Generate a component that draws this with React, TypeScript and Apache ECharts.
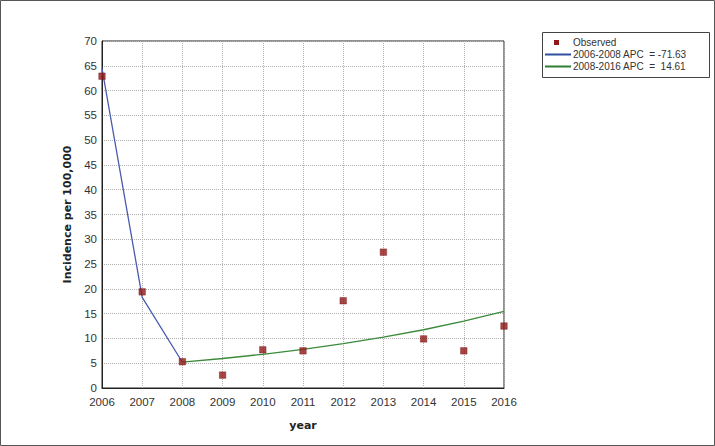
import React, { useEffect, useRef } from "react";
import * as echarts from "echarts";

const years = ["2006", "2007", "2008", "2009", "2010", "2011", "2012", "2013", "2014", "2015", "2016"];
const observed = [62.9, 19.4, 5.3, 2.6, 7.7, 7.5, 17.6, 27.4, 9.9, 7.5, 12.5];
const fit1 = [64.5, 18.3, 5.2, null, null, null, null, null, null, null, null];
const fit2 = [null, null, 5.2, 5.95, 6.8, 7.8, 8.95, 10.25, 11.75, 13.5, 15.45];
const legendLabels = ["Observed", "2006-2008 APC  = -71.63", "2008-2016 APC  =  14.61"];

const RED = "#921818";
const BLUE = "#4a5bb0";
const GREEN = "#3a8a3a";
const FONT = "'Liberation Sans', Arial, sans-serif";

export default function App() {
  const ref = useRef<HTMLDivElement>(null);
  useEffect(() => {
    const chart = echarts.init(ref.current!, null, { renderer: "svg" });
    chart.setOption({
      animation: false,
      backgroundColor: "#ffffff",
      grid: { left: 102, right: 211, top: 41, bottom: 58, show: true, borderColor: "#222", borderWidth: 1 },
      xAxis: {
        type: "category",
        data: years,
        boundaryGap: false,
        name: "year",
        nameLocation: "middle",
        nameGap: 32,
        nameTextStyle: { fontFamily: "'DejaVu Sans', Verdana, sans-serif", fontWeight: "bold", fontSize: 11, color: "#222" },
        axisLine: { lineStyle: { color: "#222", width: 1 } },
        axisTick: { show: false },
        axisLabel: { color: "#333", fontSize: 11.5, fontFamily: FONT, margin: 8 },
        splitLine: { show: true, lineStyle: { color: "#b0b0b0", type: [1, 1], width: 1 } },
      },
      yAxis: {
        type: "value",
        min: 0,
        max: 70,
        interval: 5,
        name: "Incidence per 100,000",
        nameLocation: "middle",
        nameGap: 29,
        nameTextStyle: { fontFamily: "'DejaVu Sans', Verdana, sans-serif", fontWeight: "bold", fontSize: 11, color: "#222" },
        axisLine: { show: true, lineStyle: { color: "#222", width: 1 } },
        axisTick: { show: false },
        axisLabel: { color: "#333", fontSize: 11.5, fontFamily: FONT, margin: 5 },
        splitLine: { show: true, lineStyle: { color: "#b0b0b0", type: [1, 1], width: 1 } },
      },
      series: [
        {
          name: legendLabels[1],
          type: "line",
          data: fit1,
          symbol: "none",
          lineStyle: { color: BLUE, width: 1.3 },
          z: 2,
        },
        {
          name: legendLabels[2],
          type: "line",
          data: fit2,
          symbol: "none",
          lineStyle: { color: GREEN, width: 1.3 },
          z: 2,
        },
        {
          name: legendLabels[0],
          type: "scatter",
          data: observed,
          symbol: "rect",
          symbolSize: 6.5,
          itemStyle: { color: RED, borderColor: "#6e1010", borderWidth: 0.5 },
          z: 3,
        },
      ],
      graphic: [
        { type: "rect", shape: { x: 0.5, y: 0.5, width: 714, height: 445 }, style: { fill: "none", stroke: "#555", lineWidth: 1 }, silent: true },
        { type: "rect", shape: { x: 542.5, y: 32.5, width: 167, height: 45 }, style: { fill: "#fff", stroke: "#444", lineWidth: 1 } },
        { type: "rect", shape: { x: 554, y: 40, width: 5, height: 5 }, style: { fill: RED } },
        { type: "line", shape: { x1: 545, y1: 54.5, x2: 571, y2: 54.5 }, style: { stroke: "#2e4f9e", lineWidth: 2 } },
        { type: "line", shape: { x1: 545, y1: 66.5, x2: 571, y2: 66.5 }, style: { stroke: "#2e7d32", lineWidth: 2 } },
        { type: "text", x: 573, y: 42, style: { text: legendLabels[0], fill: "#333", font: `10px ${FONT}`, verticalAlign: "middle" } },
        { type: "text", x: 573, y: 54, style: { text: legendLabels[1], fill: "#333", font: `10px ${FONT}`, verticalAlign: "middle" } },
        { type: "text", x: 573, y: 66, style: { text: legendLabels[2], fill: "#333", font: `10px ${FONT}`, verticalAlign: "middle" } },
      ],
    });
    return () => chart.dispose();
  }, []);
  return <div ref={ref} style={{ position: "fixed", left: 0, top: 0, width: 715, height: 446 }} />;
}
